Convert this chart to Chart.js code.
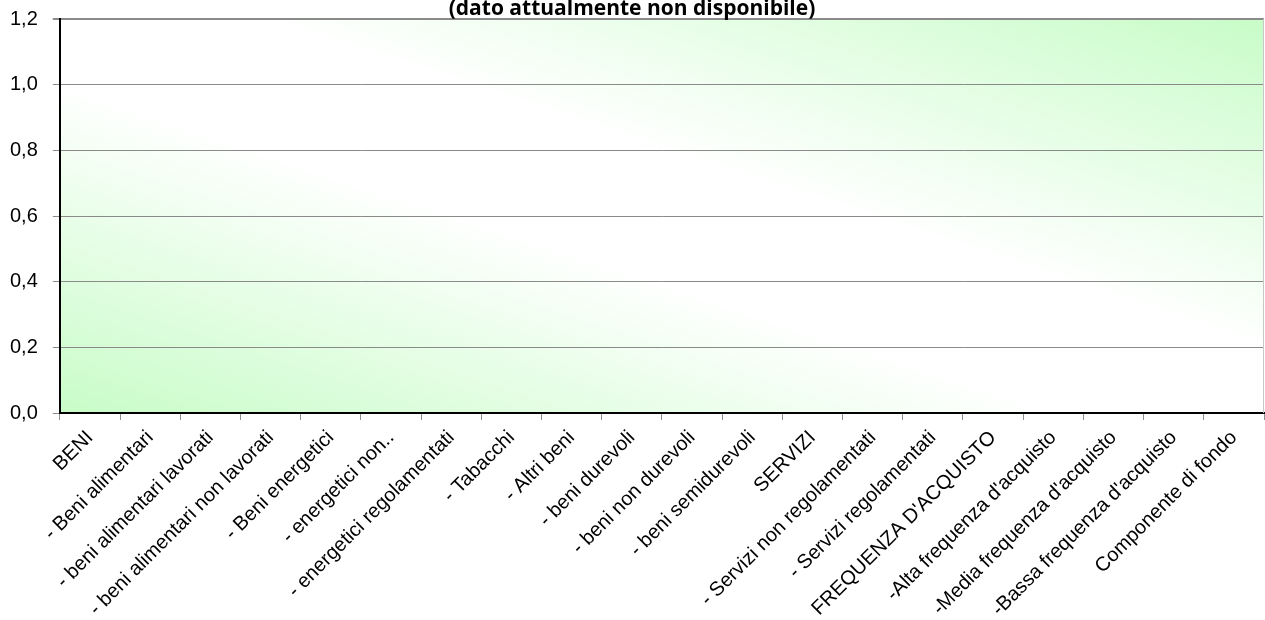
<!DOCTYPE html>
<html>
<head>
<meta charset="utf-8">
<script src="https://cdn.jsdelivr.net/npm/chart.js@4/dist/chart.umd.min.js"></script>
<style>
  html, body { margin: 0; padding: 0; background: #fff; overflow: hidden; }
  #box { width: 1265px; height: 628px; margin-top: -8px; }
</style>
</head>
<body>
<div id="box"><canvas id="grafico"></canvas></div>
<script>
// Categorie (asse x)
const categorie = [
  'BENI', '- Beni alimentari', '- beni alimentari lavorati', '- beni alimentari non lavorati',
  '- Beni energetici', '- energetici non..', '- energetici regolamentati', '- Tabacchi',
  '- Altri beni', '- beni durevoli', '- beni non durevoli', '- beni semidurevoli',
  'SERVIZI', '- Servizi non regolamentati', '- Servizi regolamentati', "FREQUENZA D'ACQUISTO",
  "-Alta frequenza d'acquisto", "-Media frequenza d'acquisto", "-Bassa frequenza d'acquisto",
  'Componente di fondo'
];
// Valori: dato attualmente non disponibile
const valori = [null, null, null, null, null, null, null, null, null, null,
                null, null, null, null, null, null, null, null, null, null];
const titolo = '(dato attualmente non disponibile)';
const yMin = 0, yMax = 1.2, yPasso = 0.2;

// sfondo sfumato verde/bianco/verde in diagonale
const sfondoPlugin = {
  id: 'sfondo',
  beforeDraw(chart) {
    const { ctx, chartArea: a } = chart;
    const w = a.right - a.left, h = a.bottom - a.top;
    const k = 2 * w * h / (w * w + h * h);
    const g = ctx.createLinearGradient(a.left, a.bottom, a.left + k * h, a.bottom - k * w);
    g.addColorStop(0, '#c8fcc8');
    g.addColorStop(0.42, '#ffffff');
    g.addColorStop(0.58, '#ffffff');
    g.addColorStop(1, '#c8fcc8');
    ctx.save();
    ctx.fillStyle = g;
    ctx.fillRect(a.left, a.top, w, h);
    ctx.restore();
  },
  afterDraw(chart) {
    const { ctx, chartArea: a } = chart;
    ctx.save();
    // bordo destro chiaro
    ctx.strokeStyle = '#c8c8c8';
    ctx.lineWidth = 1;
    ctx.beginPath();
    ctx.moveTo(a.right - 0.5, a.top);
    ctx.lineTo(a.right - 0.5, a.bottom);
    ctx.stroke();
    // titolo tagliato in alto, come nell'originale
    ctx.font = 'bold 21px "Open Sans", "Noto Sans", sans-serif';
    ctx.fillStyle = '#000';
    ctx.textAlign = 'center';
    ctx.textBaseline = 'alphabetic';
    ctx.fillText(titolo, 632, 23);
    ctx.restore();
  }
};

new Chart(document.getElementById('grafico'), {
  type: 'bar',
  data: {
    labels: categorie,
    datasets: [{ label: 'valori', data: valori, backgroundColor: '#3366cc' }]
  },
  options: {
    responsive: true,
    maintainAspectRatio: false,
    animation: false,
    layout: { padding: { top: -1, right: 1, left: -5, bottom: -7 } },
    plugins: { legend: { display: false }, tooltip: { enabled: false } },
    scales: {
      x: {
        offset: true,
        grid: { display: true, drawOnChartArea: false, drawTicks: true, tickLength: 7, color: '#909090', offset: true },
        border: { color: '#000', width: 2 },
        ticks: {
          color: '#000', autoSkip: false, minRotation: 45, maxRotation: 45, padding: 6,
          font: { family: '"Liberation Sans", Arial, sans-serif', size: 20 }
        }
      },
      y: {
        min: yMin, max: yMax,
        grid: {
          color: '#8a8a8a', tickLength: 7,
          lineWidth: c => (c.tick && c.tick.value === yMax ? 2 : 1)
        },
        border: { color: '#000', width: 2 },
        ticks: {
          stepSize: yPasso, color: '#000', padding: 15,
          font: { family: '"Liberation Sans", Arial, sans-serif', size: 20 },
          callback: v => v.toFixed(1).replace('.', ',')
        }
      }
    }
  },
  plugins: [sfondoPlugin]
});
</script>
</body>
</html>
